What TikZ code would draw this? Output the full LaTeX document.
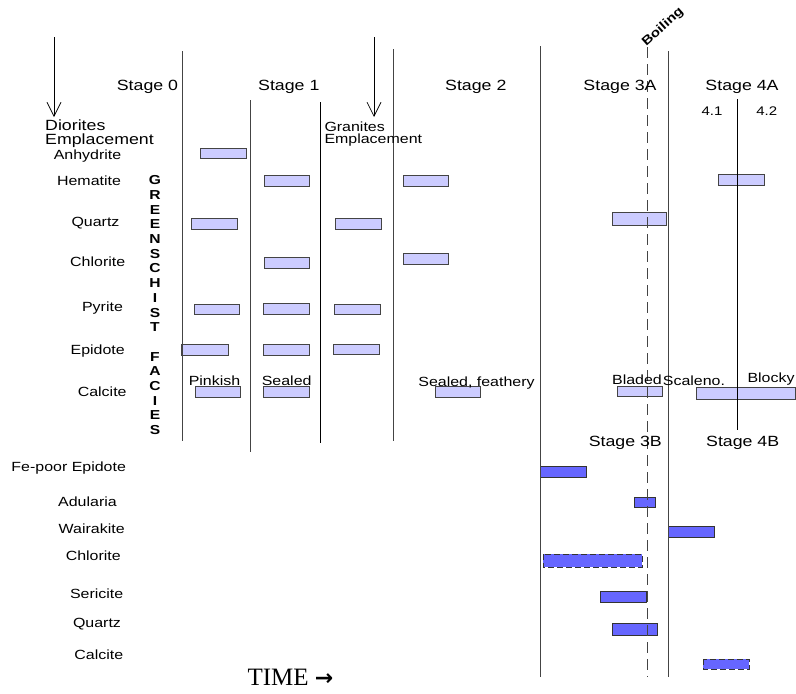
\documentclass[tikz,border=0pt]{standalone}
\usepackage{fontspec}
\setmainfont{Liberation Sans}[FakeStretch=1.2]
\newfontfamily\timefont{Liberation Serif}
\newfontfamily\arrfont{DejaVu Sans}
\usetikzlibrary{arrows.meta}
\definecolor{lav}{HTML}{CCCCFF}
\definecolor{blu}{HTML}{6666FF}
\definecolor{edge}{HTML}{444444}

\begin{document}
\begin{tikzpicture}[x=1pt, y=-1pt,
  stage/.style={font=\fontsize{14.8}{16}\selectfont, anchor=base, inner sep=0pt},
  mlab/.style={font=\fontsize{13.3}{15}\selectfont, anchor=base, inner sep=0pt},
  sub/.style={font=\fontsize{12.5}{14}\selectfont, anchor=base, inner sep=0pt},
  sep/.style={draw=edge, line width=0.8pt},
  lbar/.style={draw=edge, fill=lav, line width=0.9pt},
  dbar/.style={draw=black!80, fill=blu, line width=0.9pt},
  dashbar/.style={dbar, dash pattern=on 6pt off 3pt},
  emp/.style={-{Straight Barb[length=14pt,width=14pt]}, line width=0.7pt}]
  \useasboundingbox (0,0) rectangle (796,694);
  % greenschist bars
  \foreach \xa/\ya/\xb/\yb in {200/148/246/158, 264/175/309/186, 403/175/448/186,
      718/174/764/185, 191/218/237/229, 335/218/381/229, 612/212/666/225,
      264/257/309/268, 403/253/448/264, 194/304/239/314, 263/303/309/314,
      334/304/380/314, 181/344/228/355, 263/344/309/355, 333/344/379/354,
      195/386/240/397, 263/386/309/397, 435/386/480/397, 617/386/662/396,
      696/387/795/399}
    \draw[lbar] (\xa,\ya) rectangle (\xb,\yb);
  % stage B bars
  \foreach \xa/\ya/\xb/\yb in {540/466/586/477, 634/497/655/507, 668/526/714/537,
      600/591/646/602, 612/623/657/635}
    \draw[dbar] (\xa,\ya) rectangle (\xb,\yb);
  \draw[dashbar] (543,554) rectangle (642,567);
  \draw[dashbar] (703,659) rectangle (749,669);
  % stage limits
  \foreach \x/\ya/\yb in {182/51/441, 250/100/452, 393/49/441, 540/46/677, 668/51/677}
    \draw[sep] (\x,\ya) -- (\x,\yb);
  \draw[line width=0.8pt] (320,102) -- (320,443);
  \draw[line width=0.8pt] (737,99) -- (737,430);
  \draw[sep, dash pattern=on 11pt off 6pt] (647,47) -- (647,677);
  \node[font=\bfseries\fontsize{12.5}{14}\selectfont, rotate=42, inner sep=0pt] (boil) at (663,27) {Boiling};
  % stages
  \node[stage] (s0) at (147.5,90) {Stage 0};
  \node[stage] (s1) at (288.8,90) {Stage 1};
  \node[stage] (s2) at (475.8,90) {Stage 2};
  \node[stage] (s3a) at (620,90) {Stage 3A};
  \node[stage] (s4a) at (742,90) {Stage 4A};
  \node[stage] (s3b) at (625.3,446.7) {Stage 3B};
  \node[stage] (s4b) at (742.7,446.7) {Stage 4B};
  \node[sub] (s41) at (712,115.7) {4.1};
  \node[sub] (s42) at (766.7,115.7) {4.2};
  % intrusions
  \node[stage, anchor=base west] (dior) at (45,130.7) {Diorites};
  \node[stage, anchor=base west] (diorb) at (45,144.5) {Emplacement};
  \node[mlab, anchor=base west] (gran) at (324.3,131) {Granites};
  \node[mlab, anchor=base west] (granb) at (324.3,143.3) {Emplacement};
  \coordinate (dtop) at (54,37);
  \coordinate (dtip) at (54,117);
  \coordinate (gtop) at (374,37);
  \coordinate (gtip) at (374,117);
  \draw[emp] (dtop) -- (dtip);
  \draw[emp] (gtop) -- (gtip);
  % minerals
  \node[mlab] (anh) at (87.5,159) {Anhydrite};
  \node[mlab] (hem) at (89,185.7) {Hematite};
  \node[mlab] (qtz) at (95.5,226.7) {Quartz};
  \node[mlab] (chl) at (97.7,266.7) {Chlorite};
  \node[mlab] (pyr) at (102.5,311.7) {Pyrite};
  \node[mlab] (epi) at (97.7,354) {Epidote};
  \node[mlab] (cal) at (102.2,396) {Calcite};
  \node[font=\bfseries\fontsize{13}{14.7}\selectfont, align=center, anchor=north, inner sep=0pt] (facies) at (155,175.5)
    {G\\R\\E\\E\\N\\S\\C\\H\\I\\S\\T\\[14.7pt]F\\A\\C\\I\\E\\S};
  \node[mlab] (pink) at (214.5,385) {Pinkish};
  \node[mlab] (seal) at (286.7,385) {Sealed};
  \node[mlab] (feath) at (476.5,386) {Sealed, feathery};
  \node[mlab] (blad) at (637,384) {Bladed};
  \node[mlab] (scal) at (694,385) {Scaleno.};
  \node[mlab] (blck) at (771,382.7) {Blocky};
  \node[mlab] (fepi) at (68.7,471.7) {Fe-poor Epidote};
  \node[mlab] (adu) at (87.5,506.7) {Adularia};
  \node[mlab] (wai) at (91.7,533.3) {Wairakite};
  \node[mlab] (chlb) at (93.3,560) {Chlorite};
  \node[mlab] (ser) at (96.7,598.3) {Sericite};
  \node[mlab] (qtzb) at (97,627.3) {Quartz};
  \node[mlab] (calb) at (98.8,659.3) {Calcite};
  \node[font=\timefont\fontsize{25}{28}\selectfont, anchor=base, inner sep=0pt] (time) at (290.5,685)
    {TIME {\arrfont\bfseries\fontsize{22}{26}\selectfont →}};
\end{tikzpicture}
\end{document}
